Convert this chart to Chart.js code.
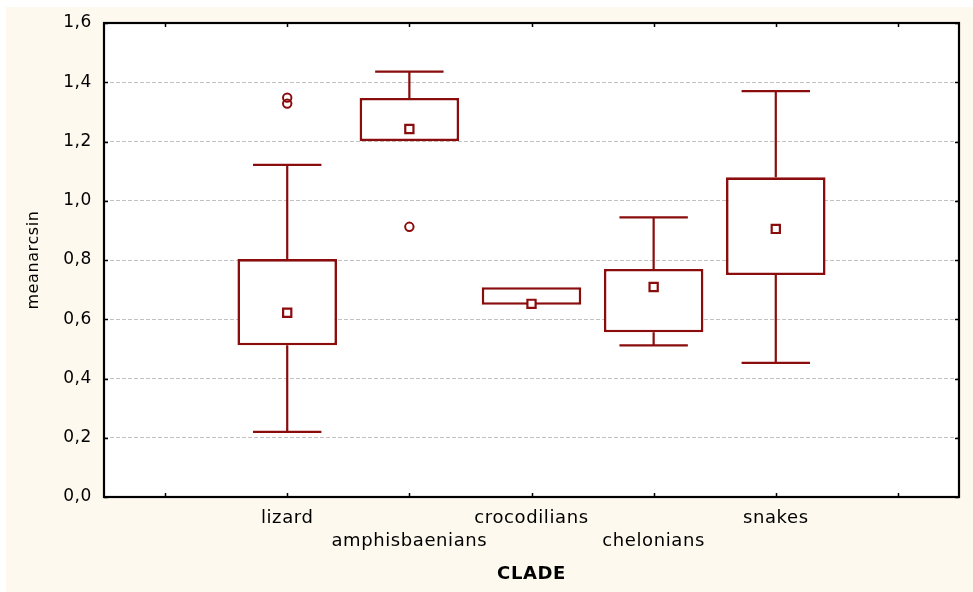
<!DOCTYPE html>
<html><head><meta charset="utf-8">
<script src="https://cdn.jsdelivr.net/npm/chart.js@4/dist/chart.umd.min.js"></script>
<style>
html,body{margin:0;padding:0;background:#fff;width:973px;height:592px;overflow:hidden}
#wrap{position:absolute;left:6px;top:7px;width:967px;height:585px;background:#fdf9ee}
</style></head><body>
<div id="wrap"><canvas id="c"></canvas></div>
<script>
// Category slots (empty slots at both ends, as in the original axis)
const categories  = ['', 'lizard', 'amphisbaenians', 'crocodilians', 'chelonians', 'snakes', ''];
const whiskerLow  = [null, 0.220, 1.201, 0.649, 0.512, 0.453, null];
const q1          = [null, 0.512, 1.201, 0.649, 0.556, 0.749, null];
const median      = [null, 0.622, 1.242, 0.652, 0.709, 0.905, null];
const q3          = [null, 0.803, 1.347, 0.708, 0.770, 1.079, null];
const whiskerHigh = [null, 1.121, 1.436, 0.708, 0.944, 1.370, null];
const outliersA   = [null, 1.348, 0.912, null, null, null, null];
const outliersB   = [null, 1.328, null, null, null, null, null];
const yAxisTitle = 'meanarcsin';
const xAxisTitle = 'CLADE';

const RED = '#8a0c0c';
const SPACING = '0.6px';

const boxPlugin = {
  id: 'boxFrame',
  beforeUpdate(chart) { chart.ctx.letterSpacing = SPACING; },
  beforeLayout(chart) { chart.ctx.letterSpacing = SPACING; },
  beforeDraw(chart) {
    const {ctx, chartArea: a} = chart;
    ctx.letterSpacing = SPACING;
    ctx.save();
    ctx.fillStyle = '#ffffff';
    ctx.fillRect(a.left, a.top, a.right - a.left, a.bottom - a.top);
    ctx.restore();
  },
  beforeDatasetsDraw(chart) {
    const {ctx, scales: {x, y}} = chart;
    ctx.save();
    ctx.strokeStyle = RED;
    ctx.lineWidth = 2.2;
    const capHalf = x.width / categories.length * 0.28;
    categories.forEach((c, i) => {
      if (whiskerHigh[i] == null) return;
      const px = x.getPixelForValue(i);
      const segs = [[q3[i], whiskerHigh[i]], [q1[i], whiskerLow[i]]];
      segs.forEach(([from, to]) => {
        if (Math.abs(to - from) < 1e-6) return;
        const y0 = y.getPixelForValue(from), y1 = y.getPixelForValue(to);
        ctx.beginPath();
        ctx.moveTo(px, y0); ctx.lineTo(px, y1);
        ctx.moveTo(px - capHalf, y1); ctx.lineTo(px + capHalf, y1);
        ctx.stroke();
      });
    });
    ctx.restore();
  },
  afterDraw(chart) {
    const {ctx, chartArea: a, scales: {x, y}} = chart;
    ctx.save();
    ctx.strokeStyle = '#000';
    ctx.lineWidth = 1.5;
    const tl = 4;
    ctx.beginPath();
    x.ticks.forEach((t, i) => {
      const px = Math.round(x.getPixelForTick(i)) + 0.5;
      ctx.moveTo(px, a.bottom); ctx.lineTo(px, a.bottom - tl);
      ctx.moveTo(px, a.top); ctx.lineTo(px, a.top + tl);
    });
    y.ticks.forEach((t, i) => {
      const py = Math.round(y.getPixelForTick(i)) + 0.5;
      ctx.moveTo(a.left, py); ctx.lineTo(a.left + tl, py);
      ctx.moveTo(a.right, py); ctx.lineTo(a.right - tl, py);
    });
    ctx.stroke();
    ctx.lineWidth = 2.2;
    ctx.strokeRect(a.left, a.top, a.right - a.left, a.bottom - a.top);
    ctx.restore();
  }
};

new Chart(document.getElementById('c'), {
  type: 'bar',
  data: {
    labels: categories,
    datasets: [
      {
        type: 'bar',
        data: categories.map((c, i) => q1[i] == null ? null : [q1[i], q3[i]]),
        backgroundColor: '#ffffff',
        borderColor: RED,
        borderWidth: 2.6,
        borderSkipped: false,
        barPercentage: 0.815,
        categoryPercentage: 1.0,
        order: 3
      },
      {
        type: 'line',
        data: median,
        showLine: false,
        pointStyle: 'rect',
        pointRadius: 5.8,
        pointBorderWidth: 2.2,
        pointBackgroundColor: '#ffffff',
        pointBorderColor: RED,
        order: 1
      },
      {
        type: 'line',
        data: outliersA,
        showLine: false,
        pointStyle: 'circle',
        pointRadius: 4.2,
        pointBorderWidth: 2,
        pointBackgroundColor: 'rgba(255,255,255,0)',
        pointBorderColor: RED,
        order: 2
      },
      {
        type: 'line',
        data: outliersB,
        showLine: false,
        pointStyle: 'circle',
        pointRadius: 4.2,
        pointBorderWidth: 2,
        pointBackgroundColor: 'rgba(255,255,255,0)',
        pointBorderColor: RED,
        order: 2
      }
    ]
  },
  options: {
    responsive: true,
    maintainAspectRatio: false,
    animation: false,
    events: [],
    layout: {padding: {left: 0, top: 16, right: 14, bottom: 0}},
    plugins: {legend: {display: false}, tooltip: {enabled: false}, title: {display: false}},
    scales: {
      x: {
        offset: true,
        grid: {display: false, drawTicks: false},
        border: {display: false},
        ticks: {
          autoSkip: false, maxRotation: 0, minRotation: 0,
          color: '#000',
          padding: 10,
          font: {family: '"DejaVu Sans", sans-serif', size: 18, lineHeight: 1.27},
          callback: (v, i) => i % 2 === 1 ? [categories[i]] : ['', categories[i]]
        },
        title: {
          display: true, text: xAxisTitle, color: '#000',
          font: {family: '"DejaVu Sans", sans-serif', size: 18, weight: 'bold'},
          padding: {top: 0, bottom: 7}
        },
        afterFit(s) { s.height = 95; s.paddingLeft = 0; s.paddingRight = 0; }
      },
      y: {
        min: 0, max: 1.6,
        ticks: {
          stepSize: 0.2,
          color: '#000',
          padding: 12,
          font: {family: '"DejaVu Sans", sans-serif', size: 17},
          callback: v => Number(v).toFixed(1).replace('.', ',')
        },
        grid: {color: '#c2c2c2', lineWidth: 1, drawTicks: false},
        border: {display: false, dash: [4, 2]},
        title: {
          display: true, text: yAxisTitle, color: '#000',
          font: {family: '"DejaVu Sans", sans-serif', size: 16},
          padding: {top: 18, bottom: 0}
        },
        afterFit(s) { s.width = 98; s.paddingTop = 0; s.paddingBottom = 0; }
      }
    }
  },
  plugins: [boxPlugin]
});
</script>
</body></html>
